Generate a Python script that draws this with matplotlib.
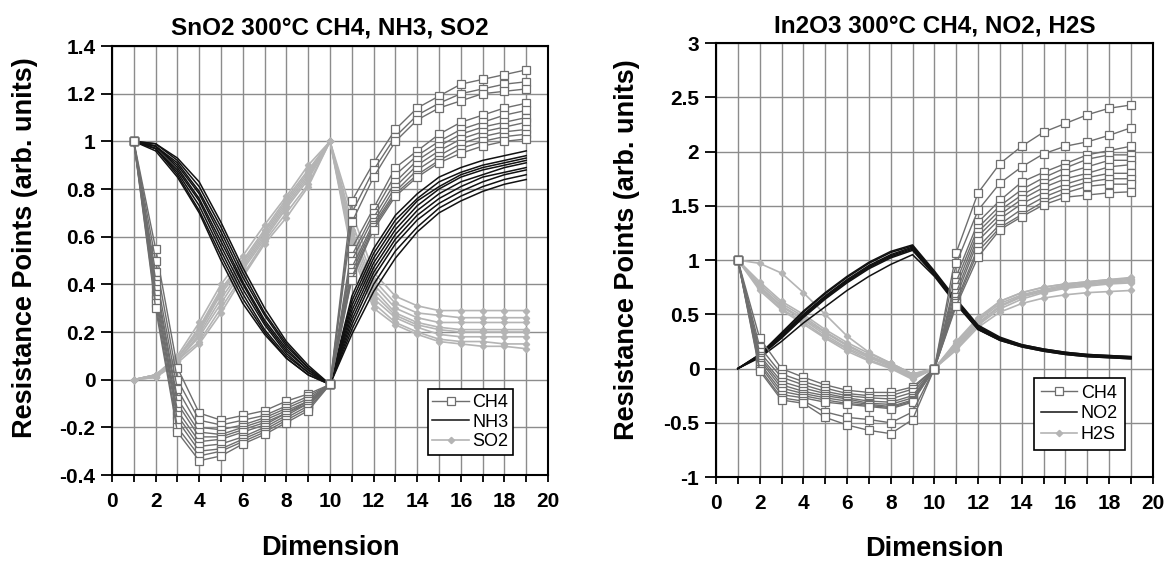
import numpy as np
import matplotlib.pyplot as plt
from matplotlib.ticker import MultipleLocator, FormatStrFormatter

plt.rcParams['font.family'] = ['Liberation Sans', 'DejaVu Sans']

""" Data: 19 points per curve, read from the figure """
dims = list(range(1, 20))

# SnO2 panel
sno2_ch4 = [
    [1, 0.55, 0.05, -0.14, -0.17, -0.15, -0.13, -0.09, -0.06, -0.02, 0.75, 0.91, 1.05, 1.14, 1.19, 1.24, 1.26, 1.28, 1.30],
    [1, 0.50, 0.00, -0.17, -0.19, -0.17, -0.15, -0.11, -0.07, -0.02, 0.70, 0.88, 1.02, 1.11, 1.16, 1.20, 1.22, 1.24, 1.25],
    [1, 0.45, -0.04, -0.20, -0.21, -0.19, -0.16, -0.12, -0.08, -0.02, 0.66, 0.85, 1.00, 1.09, 1.14, 1.17, 1.20, 1.21, 1.22],
    [1, 0.42, -0.08, -0.22, -0.23, -0.20, -0.17, -0.13, -0.09, -0.02, 0.55, 0.72, 0.89, 0.96, 1.03, 1.08, 1.11, 1.14, 1.16],
    [1, 0.40, -0.10, -0.24, -0.24, -0.21, -0.18, -0.14, -0.09, -0.02, 0.52, 0.70, 0.86, 0.94, 1.00, 1.05, 1.08, 1.11, 1.13],
    [1, 0.38, -0.13, -0.26, -0.25, -0.22, -0.19, -0.14, -0.10, -0.02, 0.50, 0.68, 0.83, 0.92, 0.98, 1.03, 1.06, 1.08, 1.10],
    [1, 0.36, -0.15, -0.28, -0.27, -0.24, -0.20, -0.15, -0.10, -0.02, 0.47, 0.66, 0.81, 0.90, 0.96, 1.01, 1.04, 1.06, 1.08],
    [1, 0.34, -0.17, -0.30, -0.29, -0.25, -0.21, -0.16, -0.11, -0.02, 0.45, 0.65, 0.79, 0.88, 0.94, 0.99, 1.02, 1.04, 1.05],
    [1, 0.32, -0.20, -0.32, -0.30, -0.26, -0.22, -0.17, -0.12, -0.02, 0.43, 0.64, 0.78, 0.86, 0.92, 0.97, 1.00, 1.02, 1.03],
    [1, 0.30, -0.22, -0.34, -0.32, -0.27, -0.23, -0.18, -0.13, -0.02, 0.42, 0.63, 0.77, 0.85, 0.91, 0.95, 0.98, 1.00, 1.01],
]
sno2_nh3 = [
    [1, 0.99, 0.93, 0.83, 0.66, 0.47, 0.30, 0.16, 0.06, -0.02, 0.35, 0.55, 0.69, 0.78, 0.85, 0.89, 0.92, 0.94, 0.96],
    [1, 0.99, 0.92, 0.81, 0.64, 0.45, 0.28, 0.15, 0.05, -0.02, 0.33, 0.53, 0.67, 0.76, 0.83, 0.87, 0.90, 0.92, 0.94],
    [1, 0.98, 0.91, 0.79, 0.62, 0.43, 0.27, 0.14, 0.05, -0.02, 0.31, 0.51, 0.65, 0.75, 0.81, 0.86, 0.89, 0.91, 0.93],
    [1, 0.98, 0.90, 0.78, 0.60, 0.41, 0.25, 0.13, 0.04, -0.02, 0.29, 0.49, 0.63, 0.73, 0.80, 0.85, 0.88, 0.90, 0.92],
    [1, 0.98, 0.89, 0.76, 0.58, 0.40, 0.24, 0.12, 0.04, -0.02, 0.27, 0.47, 0.61, 0.71, 0.78, 0.83, 0.86, 0.89, 0.91],
    [1, 0.97, 0.88, 0.75, 0.56, 0.38, 0.23, 0.11, 0.03, -0.02, 0.25, 0.45, 0.59, 0.69, 0.76, 0.81, 0.85, 0.87, 0.89],
    [1, 0.97, 0.87, 0.73, 0.54, 0.36, 0.21, 0.10, 0.03, -0.02, 0.23, 0.43, 0.57, 0.67, 0.74, 0.79, 0.83, 0.86, 0.88],
    [1, 0.97, 0.86, 0.71, 0.52, 0.34, 0.20, 0.09, 0.02, -0.02, 0.21, 0.40, 0.54, 0.64, 0.72, 0.77, 0.81, 0.84, 0.86],
    [1, 0.96, 0.85, 0.70, 0.50, 0.32, 0.19, 0.09, 0.02, -0.02, 0.19, 0.37, 0.51, 0.62, 0.70, 0.75, 0.79, 0.82, 0.84],
]
sno2_so2 = [
    [0, 0.02, 0.10, 0.24, 0.40, 0.52, 0.65, 0.77, 0.90, 1.0, 0.70, 0.45, 0.35, 0.31, 0.29, 0.29, 0.29, 0.29, 0.29],
    [0, 0.02, 0.09, 0.22, 0.38, 0.50, 0.63, 0.76, 0.88, 1.0, 0.66, 0.42, 0.32, 0.28, 0.27, 0.26, 0.26, 0.26, 0.26],
    [0, 0.02, 0.09, 0.21, 0.37, 0.49, 0.62, 0.75, 0.87, 1.0, 0.63, 0.40, 0.30, 0.26, 0.24, 0.24, 0.24, 0.24, 0.24],
    [0, 0.02, 0.09, 0.20, 0.36, 0.48, 0.61, 0.74, 0.86, 1.0, 0.61, 0.38, 0.28, 0.24, 0.22, 0.21, 0.21, 0.21, 0.21],
    [0, 0.02, 0.08, 0.19, 0.34, 0.47, 0.60, 0.73, 0.85, 1.0, 0.59, 0.36, 0.27, 0.23, 0.21, 0.20, 0.20, 0.20, 0.20],
    [0, 0.01, 0.08, 0.18, 0.32, 0.46, 0.59, 0.72, 0.84, 1.0, 0.57, 0.34, 0.26, 0.22, 0.19, 0.18, 0.18, 0.18, 0.18],
    [0, 0.01, 0.08, 0.16, 0.30, 0.44, 0.58, 0.70, 0.82, 1.0, 0.55, 0.32, 0.24, 0.20, 0.17, 0.16, 0.16, 0.15, 0.15],
    [0, 0.01, 0.07, 0.15, 0.28, 0.43, 0.57, 0.68, 0.81, 1.0, 0.53, 0.30, 0.23, 0.19, 0.16, 0.15, 0.14, 0.14, 0.13],
]

# In2O3 panel
in2o3_ch4 = [
    [1, 0.28, 0.00, -0.08, -0.15, -0.20, -0.22, -0.22, -0.17, 0.0, 1.07, 1.62, 1.89, 2.05, 2.18, 2.26, 2.34, 2.40, 2.43],
    [1, 0.20, -0.05, -0.12, -0.18, -0.23, -0.25, -0.25, -0.19, 0.0, 0.97, 1.46, 1.71, 1.86, 1.98, 2.05, 2.09, 2.15, 2.22],
    [1, 0.15, -0.08, -0.15, -0.21, -0.25, -0.27, -0.28, -0.22, 0.0, 0.85, 1.35, 1.55, 1.72, 1.81, 1.89, 1.97, 2.01, 2.05],
    [1, 0.12, -0.12, -0.18, -0.23, -0.27, -0.30, -0.31, -0.25, 0.0, 0.80, 1.30, 1.50, 1.65, 1.76, 1.85, 1.93, 1.97, 1.97],
    [1, 0.10, -0.15, -0.21, -0.25, -0.28, -0.32, -0.33, -0.27, 0.0, 0.75, 1.26, 1.46, 1.60, 1.71, 1.80, 1.86, 1.92, 1.92],
    [1, 0.08, -0.18, -0.23, -0.27, -0.30, -0.33, -0.35, -0.29, 0.0, 0.70, 1.22, 1.42, 1.56, 1.67, 1.75, 1.80, 1.86, 1.88],
    [1, 0.05, -0.21, -0.25, -0.29, -0.32, -0.34, -0.36, -0.30, 0.0, 0.66, 1.18, 1.38, 1.52, 1.62, 1.70, 1.76, 1.80, 1.80],
    [1, 0.03, -0.24, -0.27, -0.31, -0.33, -0.35, -0.37, -0.31, 0.0, 0.62, 1.12, 1.33, 1.47, 1.58, 1.66, 1.72, 1.75, 1.75],
    [1, 0.00, -0.27, -0.30, -0.40, -0.45, -0.47, -0.50, -0.40, 0.0, 0.60, 1.08, 1.30, 1.42, 1.54, 1.62, 1.68, 1.70, 1.70],
    [1, -0.02, -0.29, -0.32, -0.45, -0.52, -0.57, -0.60, -0.47, 0.0, 0.58, 1.03, 1.28, 1.40, 1.51, 1.58, 1.60, 1.62, 1.63],
]
in2o3_no2 = [
    [0, 0.13, 0.33, 0.53, 0.70, 0.85, 0.98, 1.08, 1.14, 0.90, 0.64, 0.40, 0.29, 0.22, 0.18, 0.15, 0.13, 0.12, 0.11],
    [0, 0.13, 0.32, 0.52, 0.69, 0.84, 0.97, 1.07, 1.13, 0.89, 0.63, 0.39, 0.28, 0.22, 0.18, 0.15, 0.13, 0.12, 0.11],
    [0, 0.12, 0.31, 0.50, 0.67, 0.82, 0.95, 1.05, 1.12, 0.88, 0.62, 0.38, 0.28, 0.21, 0.17, 0.14, 0.12, 0.11, 0.10],
    [0, 0.12, 0.30, 0.49, 0.66, 0.81, 0.94, 1.04, 1.11, 0.88, 0.61, 0.37, 0.27, 0.21, 0.17, 0.14, 0.12, 0.11, 0.10],
    [0, 0.11, 0.29, 0.48, 0.65, 0.80, 0.93, 1.03, 1.10, 0.87, 0.60, 0.37, 0.27, 0.21, 0.17, 0.14, 0.12, 0.11, 0.10],
    [0, 0.11, 0.28, 0.47, 0.64, 0.79, 0.92, 1.02, 1.09, 0.86, 0.60, 0.36, 0.26, 0.20, 0.16, 0.13, 0.11, 0.10, 0.09],
    [0, 0.10, 0.25, 0.42, 0.57, 0.72, 0.85, 0.96, 1.05, 0.85, 0.59, 0.36, 0.26, 0.20, 0.16, 0.13, 0.11, 0.10, 0.09],
]
in2o3_h2s = [
    [1, 0.97, 0.88, 0.70, 0.50, 0.30, 0.15, 0.05, -0.05, 0.0, 0.25, 0.47, 0.62, 0.70, 0.75, 0.78, 0.80, 0.82, 0.84],
    [1, 0.80, 0.62, 0.50, 0.36, 0.24, 0.14, 0.05, -0.05, 0.0, 0.24, 0.45, 0.62, 0.70, 0.75, 0.78, 0.80, 0.82, 0.83],
    [1, 0.78, 0.60, 0.48, 0.34, 0.22, 0.12, 0.04, -0.06, 0.0, 0.22, 0.44, 0.60, 0.68, 0.73, 0.77, 0.79, 0.81, 0.82],
    [1, 0.76, 0.58, 0.46, 0.33, 0.21, 0.11, 0.03, -0.07, 0.0, 0.21, 0.42, 0.58, 0.67, 0.72, 0.76, 0.78, 0.80, 0.81],
    [1, 0.75, 0.57, 0.45, 0.31, 0.19, 0.10, 0.02, -0.08, 0.0, 0.20, 0.41, 0.57, 0.66, 0.71, 0.75, 0.77, 0.79, 0.80],
    [1, 0.74, 0.55, 0.43, 0.29, 0.18, 0.08, 0.01, -0.09, 0.0, 0.18, 0.40, 0.55, 0.64, 0.70, 0.74, 0.76, 0.78, 0.79],
    [1, 0.72, 0.54, 0.41, 0.28, 0.16, 0.07, 0.00, -0.10, 0.0, 0.17, 0.38, 0.52, 0.60, 0.65, 0.68, 0.70, 0.71, 0.72],
]

C_CH4 = '#6e6e6e'
C_BLK = '#111111'
C_LIGHT = '#b4b4b4'
C_GRID = '#8c8c8c'


def draw_panel(ax, ch4, mid, light, mid_name, light_name, title, ylim, ystep):
    for k, row in enumerate(light):
        ax.plot(dims, row, color=C_LIGHT, lw=1.2, marker='D', ms=3.2,
                mfc=C_LIGHT, mec=C_LIGHT, label=light_name if k == 0 else None, zorder=3)
    for k, row in enumerate(mid):
        ax.plot(dims, row, color=C_BLK, lw=1.1, label=mid_name if k == 0 else None, zorder=4)
    for k, row in enumerate(ch4):
        ax.plot(dims, row, color=C_CH4, lw=1.0, marker='s', ms=5.5, mfc='white',
                mec=C_CH4, mew=0.9, label='CH4' if k == 0 else None, zorder=5)

    ax.set_xlim(0, 20)
    ax.set_ylim(*ylim)
    ax.xaxis.set_major_locator(MultipleLocator(2))
    ax.xaxis.set_minor_locator(MultipleLocator(1))
    ax.yaxis.set_major_locator(MultipleLocator(ystep))
    ax.yaxis.set_major_formatter(FormatStrFormatter('%g'))
    ax.grid(True, which='both', axis='x', color=C_GRID, lw=1.0)
    ax.grid(True, which='major', axis='y', color=C_GRID, lw=1.0)
    ax.set_axisbelow(True)
    ax.tick_params(axis='x', which='both', direction='out', length=5, width=1.3,
                   labelsize=15, pad=7)
    ax.tick_params(axis='y', which='major', direction='out', length=8, width=1.3,
                   labelsize=15, pad=4)
    for lab in ax.get_xticklabels() + ax.get_yticklabels():
        lab.set_fontweight('bold')
    for sp in ax.spines.values():
        sp.set_linewidth(1.5)
        sp.set_color('black')

    ax.set_title(title, fontsize=17.5, fontweight='bold', pad=8)
    ax.set_xlabel('Dimension', fontsize=19.5, fontweight='bold')
    ax.set_ylabel('Resistance Points (arb. units)', fontsize=19.5, fontweight='bold')

    handles, labels = ax.get_legend_handles_labels()
    order = [labels.index('CH4'), labels.index(mid_name), labels.index(light_name)]
    return [handles[i] for i in order], [labels[i] for i in order]


fig = plt.figure(figsize=(11.68, 5.62), dpi=100)
ax1 = fig.add_axes([0.0959, 0.1548, 0.3733, 0.7633])
ax2 = fig.add_axes([0.613, 0.1512, 0.374, 0.772])

h, l = draw_panel(ax1, sno2_ch4, sno2_nh3, sno2_so2, 'NH3', 'SO2',
                  'SnO2 300°C CH4, NH3, SO2', (-0.4, 1.4), 0.2)
ax1.yaxis.set_label_coords(-0.17, 0.53)
ax1.xaxis.set_label_coords(0.5, -0.14)
leg = ax1.legend(h, l, loc='lower right', bbox_to_anchor=(0.94, 0.026), fontsize=13,
                 frameon=True, fancybox=False, edgecolor='black', framealpha=1,
                 handlelength=2.0, borderpad=0.25, labelspacing=0.15, handletextpad=0.2)
leg.get_frame().set_linewidth(1.2)

h, l = draw_panel(ax2, in2o3_ch4, in2o3_no2, in2o3_h2s, 'NO2', 'H2S',
                  'In2O3 300°C CH4, NO2, H2S', (-1, 3), 0.5)
ax2.yaxis.set_label_coords(-0.174, 0.523)
ax2.xaxis.set_label_coords(0.5, -0.135)
leg = ax2.legend(h, l, loc='lower right', bbox_to_anchor=(0.957, 0.041), fontsize=13,
                 frameon=True, fancybox=False, edgecolor='black', framealpha=1,
                 handlelength=2.0, borderpad=0.4, labelspacing=0.2, handletextpad=0.2)
leg.get_frame().set_linewidth(1.2)

fig.savefig('out.png', dpi=100)
